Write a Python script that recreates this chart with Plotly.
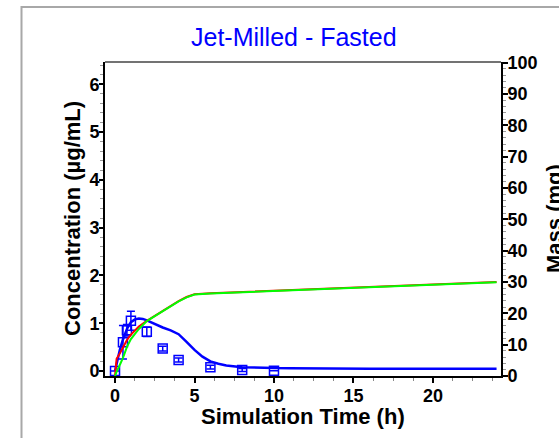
import plotly.graph_objects as go

# Observed plasma concentration (µg/mL)
obs_time = [0, 0.5, 0.75, 1, 2, 3, 4, 6, 8, 10]
obs_conc = [0.0, 0.6, 0.85, 1.05, 0.82, 0.47, 0.23, 0.08, 0.02, 0.005]
obs_err = [0.0, 0.35, 0.12, 0.2, 0.1, 0.05, 0.04, 0.04, 0.03, 0.0]

# Simulated plasma concentration (µg/mL)
sim_time = [0, 0.1, 0.3, 0.5, 0.75, 1.0, 1.25, 1.5, 1.75, 2.0, 2.5, 3.0, 3.5, 4.0,
            4.5, 5.0, 5.5, 6.0, 6.5, 7.0, 8.0, 9.0, 10, 11, 12, 12.5, 16, 20, 24]
sim_conc = [0, 0.16, 0.44, 0.66, 0.88, 1.02, 1.08, 1.10, 1.09, 1.06, 0.98, 0.91, 0.85, 0.77,
            0.61, 0.44, 0.30, 0.20, 0.15, 0.115, 0.08, 0.065, 0.06, 0.058, 0.055, 0.045, 0.045, 0.045, 0.045]

# Mass (mg) - right axis
mass_time = [0, 0.05, 0.1, 0.3, 0.5, 0.75, 1.0, 1.5, 2.0, 2.5, 3.0, 3.5, 4.0, 4.5, 5.0,
             6, 8, 10, 12, 14, 16, 18, 20, 22, 24]
red_mass = [0, 3.0, 5.5, 7.2, 9.0, 11.5, 13.2, 15.8, 17.6, 19.2, 20.8, 22.4, 23.9, 25.2, 26.1,
            26.4, 26.8, 27.2, 27.6, 28.0, 28.4, 28.8, 29.2, 29.6, 30.0]
green_mass = [0, 0.7, 1.3, 3.5, 5.8, 9.3, 11.8, 15.0, 17.5, 19.1, 20.7, 22.3, 23.8, 25.1, 26.0,
              26.3, 26.7, 27.1, 27.5, 27.9, 28.3, 28.7, 29.1, 29.5, 29.9]

x_ticks = [0, 5, 10, 15, 20]

L, R, T, B = 105, 58, 62, 62
W, H = 559, 438
PW, PH = W - L - R, H - T - B


def px(x):
    return (x - L) / PW


def py(y):
    return (H - B - y) / PH


fig = go.Figure()
fig.add_trace(go.Scatter(x=mass_time, y=red_mass, mode="lines", yaxis="y2",
                         line=dict(color="#FF0000", width=2), showlegend=False))
fig.add_trace(go.Scatter(x=mass_time, y=green_mass, mode="lines", yaxis="y2",
                         line=dict(color="#00FF00", width=2), showlegend=False))
fig.add_trace(go.Scatter(x=sim_time, y=sim_conc, mode="lines",
                         line=dict(color="#0000FF", width=2.5), showlegend=False))
fig.add_trace(go.Scatter(x=obs_time, y=obs_conc, mode="markers",
                         marker=dict(symbol="square-open", size=9, color="#0000FF",
                                     line=dict(width=1.5, color="#0000FF")),
                         error_y=dict(type="data", array=obs_err, color="#0000FF",
                                      thickness=1.5, width=4),
                         showlegend=False))

tickfont = dict(family="Arial, Liberation Sans", size=18, color="black", weight="bold")
titlefont = dict(family="Arial, Liberation Sans", size=22, color="black", weight="bold")

fig.update_layout(
    width=W, height=H,
    margin=dict(l=L, r=R, t=T, b=B),
    paper_bgcolor="white", plot_bgcolor="white",
    xaxis=dict(range=[-0.63, 24.28], tickvals=x_ticks, ticks="outside", ticklen=5,
               tickwidth=2, tickcolor="black", showline=True, linecolor="black",
               linewidth=2, showgrid=False, zeroline=False, tickfont=tickfont,
               ticklabelstandoff=-3,
               minor=dict(dtick=1.25, ticks="outside", ticklen=3, tickcolor="#888",
                          tickwidth=1, showgrid=False)),
    yaxis=dict(range=[-0.105, 6.465], dtick=1, ticks="outside", ticklen=4,
               tickwidth=2, tickcolor="black", showline=True, linecolor="black",
               linewidth=2, showgrid=False, zeroline=False, tickfont=tickfont,
               ticklabelstandoff=-4,
               minor=dict(dtick=0.2, ticks="outside", ticklen=3, tickcolor="#999",
                          tickwidth=1, showgrid=False)),
    yaxis2=dict(range=[0, 100.2], dtick=10, overlaying="y", side="right",
                ticks="outside", ticklen=5, tickwidth=2, tickcolor="black",
                showline=True, linecolor="black", linewidth=2, showgrid=False,
                zeroline=False, tickfont=tickfont, ticklabelstandoff=-4,
                minor=dict(dtick=2, ticks="outside", ticklen=3, tickcolor="#999",
                           tickwidth=1, showgrid=False)),
    shapes=[
        dict(type="line", xref="paper", yref="paper", x0=0, x1=1, y0=1, y1=1,
             line=dict(color="#444", width=1.5)),
        dict(type="path", xref="paper", yref="paper",
             path=f"M {px(21.5)} {py(440)} L {px(21.5)} {py(7)} L {px(562)} {py(7)}",
             line=dict(color="#a8a8a8", width=2)),
    ],
    annotations=[
        dict(text="Jet-Milled - Fasted", xref="paper", yref="paper",
             x=px(293.5), y=py(37), xanchor="center", yanchor="middle", showarrow=False,
             font=dict(family="Arial, Liberation Sans", size=25, color="#0000FF")),
        dict(text="Simulation Time (h)", xref="paper", yref="paper",
             x=0.5, y=py(416), xanchor="center", yanchor="middle", showarrow=False,
             font=titlefont),
        dict(text="Concentration (µg/mL)", xref="paper", yref="paper",
             x=px(72), y=0.5, xanchor="center", yanchor="middle", showarrow=False,
             textangle=-90, font=titlefont),
        dict(text="Mass (mg)", xref="paper", yref="paper",
             x=px(554), y=0.5, xanchor="center", yanchor="middle", showarrow=False,
             textangle=-90, font=titlefont),
    ],
)

fig.write_html("out.html")
